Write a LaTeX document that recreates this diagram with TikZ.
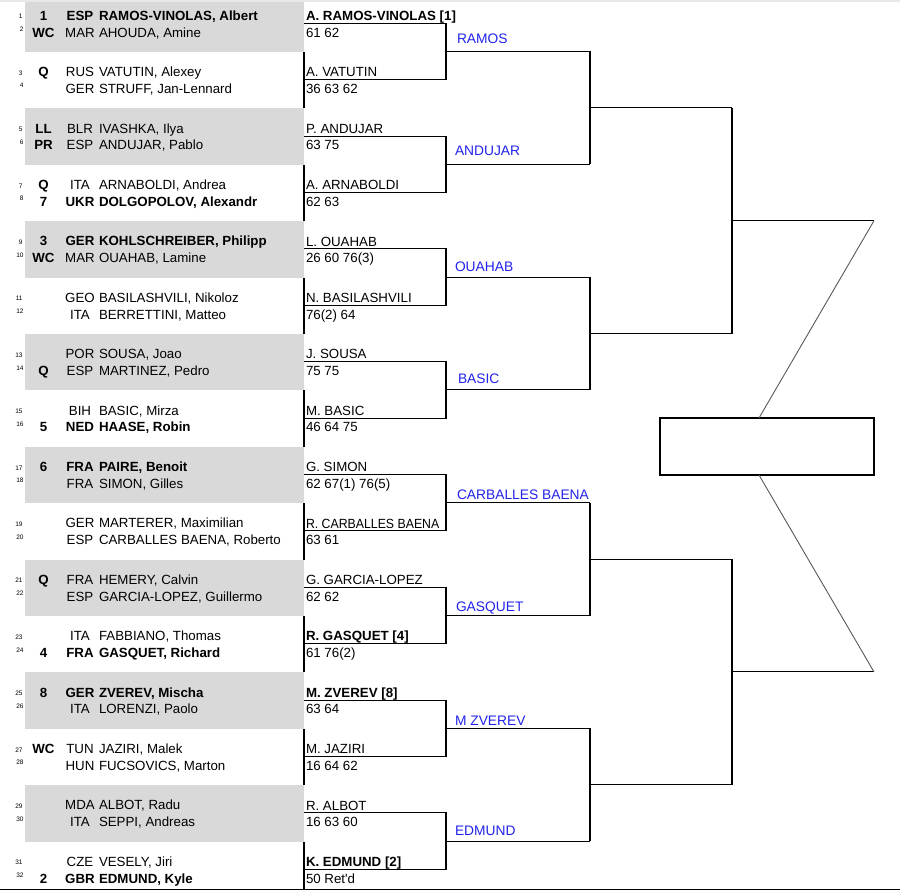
\documentclass[tikz,border=0pt]{standalone}
\usepackage{fontspec}
\usepackage{graphicx}
\setmainfont{Liberation Sans}
\usetikzlibrary{calc}
\definecolor{bandgray}{RGB}{217,217,217}
\definecolor{lblblue}{RGB}{35,35,235}
\newcommand\plf{\fontsize{13.3}{15}\selectfont}
\newcommand\lbf{\fontsize{13.8}{16}\selectfont}
\newcommand\tnf{\fontsize{6.5}{7}\selectfont}
\newcommand\setbf[1]{\ifnum#1=1 \def\curbf{\bfseries}\else\def\curbf{}\fi}
\begin{document}
\begin{tikzpicture}[x=1pt,y=-1pt,
  br/.style={line width=1.1pt,black},
  diag/.style={line width=0.9pt,gray!70!black},
  txt/.style={inner sep=0pt,outer sep=0pt,font=\plf},
  lbl/.style={inner sep=0pt,outer sep=0pt,font=\lbf,text=lblblue,anchor=base west},
  tiny/.style={inner sep=0pt,outer sep=0pt,font=\tnf,anchor=base east}]
\useasboundingbox (0,0) rectangle (900,891);
\fill[white] (0,0) rectangle (900,891);
\fill[gray!18] (0,0) rectangle (900,2);
% bands
\foreach \j in {0,2,...,14}
  \fill[bandgray] (25,{max(2,56.4*\j-4.5)}) rectangle (304,{56.4*\j+52});
\foreach \j in {1,3,...,15}
  \draw[br] (304,{56.4*\j-4.5}) -- (304,{min(889,56.4*\j+52)});
% players
\foreach \pn/\ct/\nm/\bb [count=\i from 0] in {
 1/ESP/{RAMOS-VINOLAS, Albert}/1,
 2/MAR/{AHOUDA, Amine}/0,
 3/RUS/{VATUTIN, Alexey}/0,
 4/GER/{STRUFF, Jan-Lennard}/0,
 5/BLR/{IVASHKA, Ilya}/0,
 6/ESP/{ANDUJAR, Pablo}/0,
 7/ITA/{ARNABOLDI, Andrea}/0,
 8/UKR/{DOLGOPOLOV, Alexandr}/1,
 9/GER/{KOHLSCHREIBER, Philipp}/1,
 10/MAR/{OUAHAB, Lamine}/0,
 11/GEO/{BASILASHVILI, Nikoloz}/0,
 12/ITA/{BERRETTINI, Matteo}/0,
 13/POR/{SOUSA, Joao}/0,
 14/ESP/{MARTINEZ, Pedro}/0,
 15/BIH/{BASIC, Mirza}/0,
 16/NED/{HAASE, Robin}/1,
 17/FRA/{PAIRE, Benoit}/1,
 18/FRA/{SIMON, Gilles}/0,
 19/GER/{MARTERER, Maximilian}/0,
 20/ESP/{CARBALLES BAENA, Roberto}/0,
 21/FRA/{HEMERY, Calvin}/0,
 22/ESP/{GARCIA-LOPEZ, Guillermo}/0,
 23/ITA/{FABBIANO, Thomas}/0,
 24/FRA/{GASQUET, Richard}/1,
 25/GER/{ZVEREV, Mischa}/1,
 26/ITA/{LORENZI, Paolo}/0,
 27/TUN/{JAZIRI, Malek}/0,
 28/HUN/{FUCSOVICS, Marton}/0,
 29/MDA/{ALBOT, Radu}/0,
 30/ITA/{SEPPI, Andreas}/0,
 31/CZE/{VESELY, Jiri}/0,
 32/GBR/{EDMUND, Kyle}/1}
{
  \pgfmathsetmacro\yc{56.4*floor(\i/2)+15.5+16.8*mod(\i,2)}
  \pgfmathsetmacro\yt{\yc+2.3+1-4*mod(\i,2)}
  \pgfmathsetmacro\xt{22.5+1*mod(\i,2)}
  \setbf{\bb}
  \node[tiny] (n\pn) at (\xt,\yt) {\pn};
  \node[txt,anchor=base] (c\pn) at (80,\yc+4.8) {\curbf\ct};
  \node[txt,anchor=base west] (p\pn) at (99,\yc+4.8) {\curbf\nm};
}
% seeds / entry
\foreach \pn/\sd in {1/1,2/WC,3/Q,5/LL,6/PR,7/Q,8/7,9/3,10/WC,14/Q,16/5,17/6,21/Q,24/4,25/8,27/WC,32/2}
{
  \pgfmathtruncatemacro\ii{\pn-1}
  \pgfmathsetmacro\yc{56.4*floor(\ii/2)+15.5+16.8*mod(\ii,2)}
  \node[txt,anchor=base] (s\pn) at (43.5,\yc+4.8) {\bfseries\sd};
}
% first-round winners
\foreach \wn/\sc/\bb [count=\k from 0] in {
 {A. RAMOS-VINOLAS [1]}/{61 62}/1,
 {A. VATUTIN}/{36 63 62}/0,
 {P. ANDUJAR}/{63 75}/0,
 {A. ARNABOLDI}/{62 63}/0,
 {L. OUAHAB}/{26 60 76(3)}/0,
 {N. BASILASHVILI}/{76(2) 64}/0,
 {J. SOUSA}/{75 75}/0,
 {M. BASIC}/{46 64 75}/0,
 {G. SIMON}/{62 67(1) 76(5)}/0,
 {\scalebox{0.925}[1]{R. CARBALLES BAENA}}/{63 61}/0,
 {G. GARCIA-LOPEZ}/{62 62}/0,
 {R. GASQUET [4]}/{61 76(2)}/1,
 {M. ZVEREV [8]}/{63 64}/1,
 {M. JAZIRI}/{16 64 62}/0,
 {R. ALBOT}/{16 63 60}/0,
 {K. EDMUND [2]}/{50 Ret\textquotesingle d}/1}
{
  \pgfmathsetmacro\ly{56.4*\k+23.3}
  \setbf{\bb}
  \coordinate (wl\k) at (304,\ly);
  \node[txt,anchor=base west] (w\k) at (306,\ly-2.8) {\curbf\wn};
  \node[txt,anchor=base west] (sc\k) at (306,\ly+13.8) {\sc};
}
% round 2 coordinates
\foreach \m in {0,...,7}{
  \coordinate (ra\m) at (446,{51.5+112.8*\m});
  \coordinate (rb\m) at (590,{51.5+112.8*\m});
}
\foreach \q in {0,...,3}{
  \coordinate (qa\q) at (590,{107.9+225.6*\q});
  \coordinate (qb\q) at (732,{107.9+225.6*\q});
}
\foreach \s in {0,1}{
  \coordinate (sa\s) at (732,{220.7+451.2*\s});
  \coordinate (sb\s) at (874,{220.7+451.2*\s});
}
% bracket connectors
\foreach \m in {0,...,7}{
  \pgfmathtruncatemacro\ka{2*\m}
  \pgfmathtruncatemacro\kb{2*\m+1}
  \draw[br] (wl\ka) -| (ra\m) |- (wl\kb);
  \draw[br] (ra\m) -- (rb\m);
}
\foreach \q in {0,...,3}{
  \pgfmathtruncatemacro\ma{2*\q}
  \pgfmathtruncatemacro\mb{2*\q+1}
  \draw[br] (rb\ma) -| (qa\q) |- (rb\mb);
  \draw[br] (qa\q) -- (qb\q);
}
\foreach \s in {0,1}{
  \pgfmathtruncatemacro\qa{2*\s}
  \pgfmathtruncatemacro\qb{2*\s+1}
  \draw[br] (qb\qa) -| (sa\s) |- (qb\qb);
  \draw[br] (sa\s) -- (sb\s);
}
% final box
\node[draw,line width=2pt,inner sep=0pt,outer sep=0pt,minimum width=214pt,minimum height=57pt] (final) at (767,446.5) {};
\coordinate (fx) at (759,0);
\draw[diag] (sb0) -- (final.north -| fx);
\draw[diag] (final.south -| fx) -- (sb1);
% round-2 winner labels
\node[lbl] (l0) at (457,39+4.9) {RAMOS};
\node[lbl] (l1) at (455,151+4.9) {ANDUJAR};
\node[lbl] (l2) at (455,266.7+4.9) {OUAHAB};
\node[lbl] (l3) at (458,379+4.9) {BASIC};
\node[lbl] (l4) at (457,495+4.9) {CARBALLES BAENA};
\node[lbl] (l5) at (456,606.7+4.9) {GASQUET};
\node[lbl] (l6) at (455,721+4.9) {M ZVEREV};
\node[lbl] (l7) at (455,831+4.9) {EDMUND};
% bottom rule
\draw[line width=1.5pt] (0,889.5) -- (900,889.5);
\end{tikzpicture}
\end{document}
